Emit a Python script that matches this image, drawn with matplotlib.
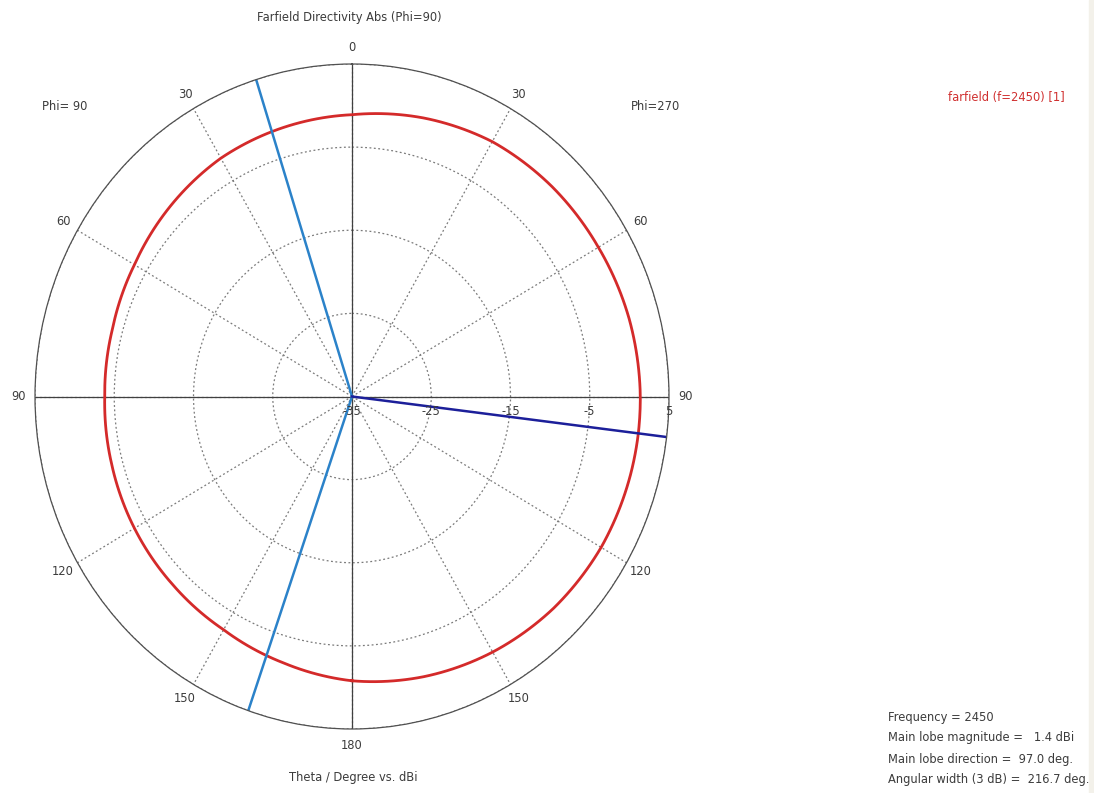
import numpy as np
import matplotlib.pyplot as plt
from matplotlib.patches import Rectangle

plt.rcParams['font.family'] = ['DejaVu Sans']

# Phi=90 cut: theta in degrees (clockwise from top, right half = Phi=270 side)
theta_deg = [-180, -165, -150, -135, -120, -105, -90, -75, -60, -45, -30, -15,
             0, 15, 30, 45, 60, 75, 90, 97, 105, 120, 135, 150, 165, 180]
dir_dbi = [-0.8, -1.8, -2.6, -3.0, -3.3, -3.6, -3.8, -3.7, -3.3, -2.6, -1.9, -1.5,
           -1.1, -0.3, 0.4, 0.7, 0.9, 1.2, 1.38, 1.4, 1.38, 1.3, 1.0, 0.5, -0.1, -0.8]

# main lobe and 3 dB beam edges (deg)
main_lobe_dir = 97.0
beam_edges = [-17.6, 199.1]

# info
freq = 2450
main_lobe_mag = 1.4
angular_width = 216.7

# axes scale
r_min, r_max = -35, 5
r_rings = [-25, -15, -5, 5]
r_labels = [-35, -25, -15, -5, 5]
theta_ticks = [0, 30, 60, 90, 120, 150, 180, 210, 240, 270, 300, 330]
theta_labels = ['0', '30', '60', '90', '120', '150', '180', '150', '120', '90', '60', '30']

txt_col = '#3c3c3c'
fs = 8.3
W, H = 1094, 793

fig = plt.figure(figsize=(W / 100, H / 100), dpi=100)
ax = fig.add_axes([35 / W, 64 / H, 634 / W, 665 / H], projection='polar')
ax.set_aspect('auto')
ax.set_theta_zero_location('N')
ax.set_theta_direction(-1)
ax.set_rlim(r_min, r_max)

ax.set_thetagrids(theta_ticks, theta_labels)
ax.set_yticks(r_rings)
ax.set_yticklabels([])
ax.grid(True, linestyle=(0, (1.5, 2)), color='#7a7a7a', linewidth=0.9)
ax.tick_params(axis='x', pad=1.5, labelsize=fs, labelcolor=txt_col)
ax.spines['polar'].set_color('#505050')
ax.spines['polar'].set_linewidth(0.9)

# solid cross
for a in [0, 90, 180, 270]:
    ax.axvline(np.deg2rad(a), color='#404040', linewidth=0.9)

# radial labels along the right axis
for r in r_labels:
    ax.annotate(str(r), xy=(np.pi / 2, r), xytext=(0, -11), textcoords='offset points',
                ha='center', va='center', fontsize=fs, color=txt_col)

# pattern
line, = ax.plot(np.deg2rad(theta_deg), dir_dbi, color='#d42a2a', linewidth=2)
line.get_path()._interpolation_steps = 12

# 3 dB beam edges and main lobe direction
for b in beam_edges:
    ax.plot([np.deg2rad(b)] * 2, [r_min, r_max], color='#2b82c9', linewidth=1.8)
ax.plot([np.deg2rad(main_lobe_dir)] * 2, [r_min, r_max], color='#1c1f9a', linewidth=1.8)

# texts
fig.text(349 / W, 1 - 17 / H, 'Farfield Directivity Abs (Phi=90)', ha='center', va='center',
         fontsize=fs, color=txt_col)
fig.text(65 / W, 1 - 107 / H, 'Phi= 90', ha='center', va='center', fontsize=fs, color=txt_col)
fig.text(655 / W, 1 - 107 / H, 'Phi=270', ha='center', va='center', fontsize=fs, color=txt_col)
fig.text(353 / W, 1 - 778 / H, 'Theta / Degree vs. dBi', ha='center', va='center',
         fontsize=fs, color=txt_col)
fig.text(948 / W, 1 - 97 / H, f'farfield (f={freq}) [1]', ha='left', va='center',
         fontsize=fs, color='#d03030')

info = [f'Frequency = {freq}',
        f'Main lobe magnitude =   {main_lobe_mag:.1f} dBi',
        f'Main lobe direction =  {main_lobe_dir:.1f} deg.',
        f'Angular width (3 dB) =  {angular_width:.1f} deg.']
for i, s in enumerate(info):
    fig.text(888 / W, 1 - (717 + i * 21) / H, s, ha='left', va='center',
             fontsize=fs, color=txt_col)

fig.patches.append(Rectangle((1089 / W, 0), 5 / W, 1, transform=fig.transFigure,
                             color='#f3f1ea', zorder=0))

fig.savefig('out.png', dpi=100)
